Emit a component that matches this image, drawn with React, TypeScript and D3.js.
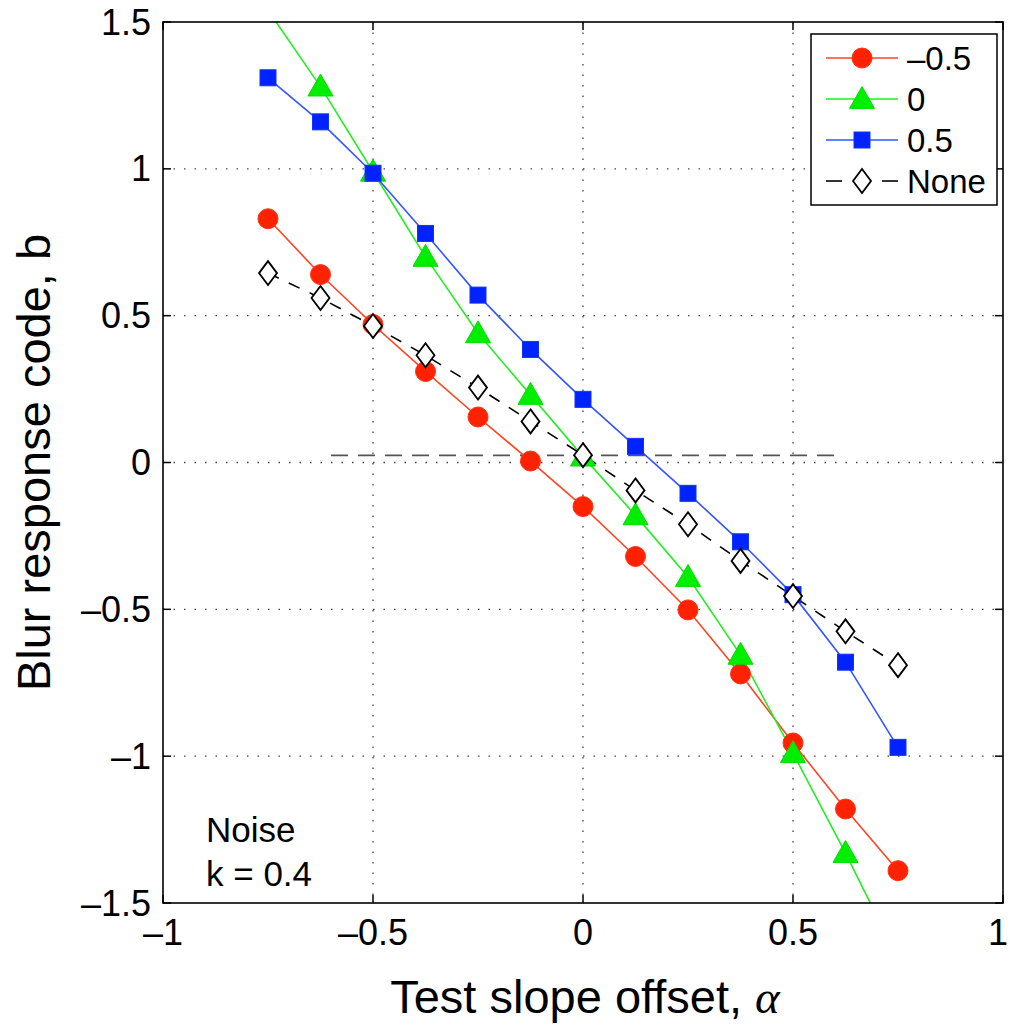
import React, { useEffect } from "react";
import * as d3 from "d3";

const alphas = [-0.75, -0.625, -0.5, -0.375, -0.25, -0.125, 0, 0.125, 0.25, 0.375, 0.5, 0.625, 0.75];
const redVals = [0.83, 0.64, 0.47, 0.31, 0.155, 0.005, -0.15, -0.32, -0.502, -0.72, -0.955, -1.18, -1.39];
const greenVals = [1.54, 1.28, 0.99, 0.7, 0.44, 0.23, 0.02, -0.18, -0.39, -0.655, -0.99, -1.33, -1.69];
const blueVals = [1.31, 1.16, 0.985, 0.78, 0.57, 0.385, 0.215, 0.055, -0.105, -0.27, -0.45, -0.68, -0.97];
const noneVals = [0.645, 0.56, 0.465, 0.365, 0.255, 0.14, 0.025, -0.095, -0.21, -0.335, -0.455, -0.575, -0.69];
const refLine = { x0: -0.6, x1: 0.6, y: 0.024 };

const xTicks = [-1, -0.5, 0, 0.5, 1];
const yTicks = [-1.5, -1, -0.5, 0, 0.5, 1, 1.5];
const xGrid = [-0.5, 0, 0.5];
const yGrid = [-1, -0.5, 0, 0.5, 1];
const legendLabels = ["–0.5", "0", "0.5", "None"];

const W = 1010, H = 1027;
const L = 163, R = 1003, T = 22, B = 903;
const FONT = "'Liberation Sans', Arial, Helvetica, sans-serif";

const fmt = (v: number) => (v < 0 ? "–" + String(Math.abs(v)) : String(v));

function Marker({ kind, x, y }: { kind: string; x: number; y: number }) {
  if (kind === "circle") return <circle cx={x} cy={y} r={10} fill="#ff2200" stroke="#ff3311" strokeWidth={1} />;
  if (kind === "triangle") {
    const s = 12.5;
    return <path d={`M${x},${y - s}L${x + s},${y + s * 0.75}L${x - s},${y + s * 0.75}Z`} fill="#00ee00" stroke="#00dd00" strokeWidth={1} />;
  }
  if (kind === "square") return <rect x={x - 8} y={y - 8} width={16} height={16} fill="#0022ff" stroke="#1133ff" strokeWidth={1} />;
  return <path d={`M${x},${y - 12}L${x + 9},${y}L${x},${y + 12}L${x - 9},${y}Z`} fill="#fff" stroke="#000" strokeWidth={1.8} />;
}

export default function App() {
  useEffect(() => {
    document.body.style.margin = "0";
  }, []);
  const x = d3.scaleLinear().domain([-1, 1]).range([L, R]);
  const y = d3.scaleLinear().domain([-1.5, 1.5]).range([B, T]);
  const line = d3.line<[number, number]>().x((d) => x(d[0])).y((d) => y(d[1]));

  const series = [
    { vals: redVals, color: "#ff4422", kind: "circle", dash: undefined as string | undefined },
    { vals: greenVals, color: "#22ee22", kind: "triangle", dash: undefined },
    { vals: blueVals, color: "#3355ff", kind: "square", dash: undefined },
    { vals: noneVals, color: "#000", kind: "diamond", dash: "12,11" },
  ];

  const tickLen = 8;
  return (
    <svg width={W} height={H} style={{ position: "absolute", left: 0, top: 0, background: "#fff" }} fontFamily={FONT}>
      <defs>
        <clipPath id="plotclip">
          <rect x={L} y={T} width={R - L} height={B - T} />
        </clipPath>
      </defs>
      <rect x={0} y={0} width={W} height={H} fill="#fff" />
      {xGrid.map((v) => (
        <line key={"gx" + v} x1={x(v)} x2={x(v)} y1={T} y2={B} stroke="#444" strokeWidth={1.3} strokeDasharray="1.5,9" />
      ))}
      {yGrid.map((v) => (
        <line key={"gy" + v} x1={L} x2={R} y1={y(v)} y2={y(v)} stroke="#444" strokeWidth={1.3} strokeDasharray="1.5,9" />
      ))}
      <g clipPath="url(#plotclip)">
        <line x1={x(refLine.x0)} x2={x(refLine.x1)} y1={y(refLine.y)} y2={y(refLine.y)} stroke="#555" strokeWidth={1.8} strokeDasharray="17,10" />
        {series.map((s, i) => {
          const pts = alphas.map((a, j) => [a, s.vals[j]] as [number, number]);
          return (
            <path key={"l" + i} d={line(pts) || ""} fill="none" stroke={s.color} strokeWidth={1.6} strokeDasharray={s.dash} />
          );
        })}
        {series.map((s, i) =>
          alphas.map((a, j) => <Marker key={`m${i}-${j}`} kind={s.kind} x={x(a)} y={y(s.vals[j])} />)
        )}
      </g>
      <rect x={L} y={T} width={R - L} height={B - T} fill="none" stroke="#000" strokeWidth={1.6} />
      {xTicks.map((v) => (
        <g key={"xt" + v}>
          <line x1={x(v)} x2={x(v)} y1={B} y2={B - tickLen} stroke="#000" strokeWidth={1.5} />
          <line x1={x(v)} x2={x(v)} y1={T} y2={T + tickLen} stroke="#000" strokeWidth={1.5} />
          <text x={Math.min(x(v), W - 12)} y={945} textAnchor="middle" fontSize={36} fill="#000">{fmt(v)}</text>
        </g>
      ))}
      {yTicks.map((v) => (
        <g key={"yt" + v}>
          <line x1={L} x2={L + tickLen} y1={y(v)} y2={y(v)} stroke="#000" strokeWidth={1.5} />
          <line x1={R} x2={R - tickLen} y1={y(v)} y2={y(v)} stroke="#000" strokeWidth={1.5} />
          <text x={151} y={y(v) + 12.5} textAnchor="end" fontSize={36} fill="#000">{fmt(v)}</text>
        </g>
      ))}
      <text x={585} y={1013} textAnchor="middle" fontSize={47} fill="#000">
        Test slope offset, <tspan fontFamily="'Liberation Serif', 'DejaVu Serif', serif" fontStyle="italic">α</tspan>
      </text>
      <text transform={`translate(50,${(T + B) / 2}) rotate(-90)`} textAnchor="middle" fontSize={47} fill="#000">
        Blur response code, b
      </text>
      <text x={206} y={842} fontSize={35} fill="#000">Noise</text>
      <text x={206} y={886} fontSize={35} fill="#000">k = 0.4</text>
      <rect x={811} y={34} width={186} height={171} fill="#fff" stroke="#000" strokeWidth={1.5} />
      {series.map((s, i) => {
        const cy = 58 + i * 41;
        return (
          <g key={"lg" + i}>
            {s.dash ? (
              <g>
                <line x1={826} x2={842} y1={cy} y2={cy} stroke="#000" strokeWidth={1.6} />
                <line x1={882} x2={898} y1={cy} y2={cy} stroke="#000" strokeWidth={1.6} />
              </g>
            ) : (
              <line x1={826} x2={898} y1={cy} y2={cy} stroke={s.color} strokeWidth={1.6} />
            )}
            <Marker kind={s.kind} x={862} y={cy} />
            <text x={907} y={cy + 12} fontSize={33} fill="#000">{legendLabels[i]}</text>
          </g>
        );
      })}
    </svg>
  );
}
